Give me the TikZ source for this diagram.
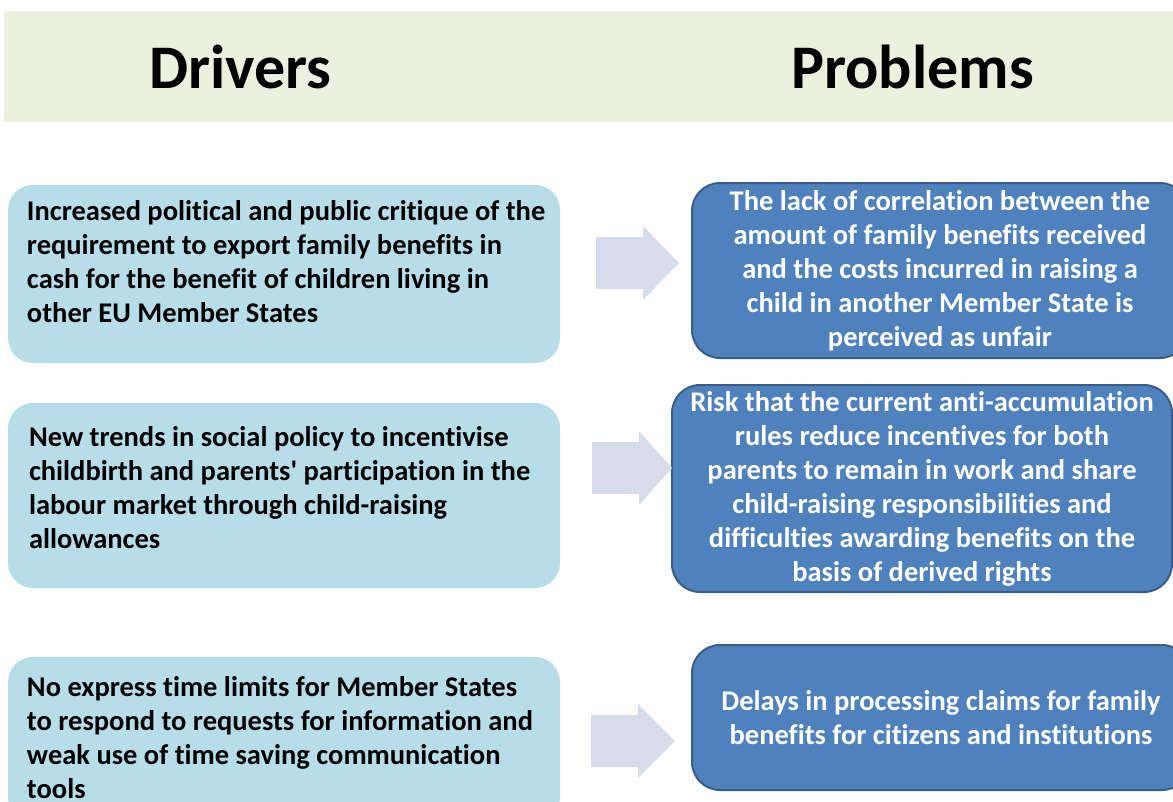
\documentclass[tikz,border=0pt]{standalone}
\usepackage{fontspec}
\setmainfont{Carlito}[Ligatures={TeX,NoCommon}]
\usetikzlibrary{positioning}

\definecolor{headband}{HTML}{EBF1DE}
\definecolor{driverblue}{HTML}{B7DDE8}
\definecolor{problemblue}{HTML}{4F81BD}
\definecolor{problemedge}{HTML}{385D8A}
\definecolor{arrowfill}{HTML}{D6DCE9}

\begin{document}
\begin{tikzpicture}[x=1pt, y=-1pt,
    every node/.style={font=\bfseries\fontsize{28.5}{34}\selectfont},
    heading/.style={font=\bfseries\fontsize{62}{70}\selectfont, anchor=base},
    driverbox/.style={rectangle, rounded corners=25pt, fill=driverblue, minimum width=552pt, inner sep=0pt},
    drivertext/.style={align=left, text=black, inner sep=0pt},
    problembox/.style={rectangle, rounded corners=28pt, fill=problemblue, draw=problemedge, line width=2pt, text=white, align=center, inner sep=0pt}]
    \useasboundingbox (0,0) rectangle (1173,801);

    \fill[headband] (4,11) rectangle (1180,122);
    \node [heading] (drivers) at (240.5,88) {Drivers};
    \node [heading] (problems) at (912.5,88) {Problems};

    \node [driverbox, minimum height=178pt] (drv1) at (284,274) {};
    \node [drivertext, right=19pt of drv1.west, yshift=12pt] (drv1txt) {Increased political and public critique of the\\requirement to export family benefits in\\cash for the benefit of children living in\\other EU Member States};
    \node [driverbox, minimum height=185pt] (drv2) at (284,495.5) {};
    \node [drivertext, right=21pt of drv2.west, yshift=8pt] (drv2txt) {New trends in social policy to incentivise\\childbirth and parents\textquotesingle{} participation in the\\labour market through child-raising\\allowances};
    \node [driverbox, minimum height=165pt] (drv3) at (284,739.5) {};
    \node [drivertext, right=19pt of drv3.west, yshift=2pt] (drv3txt) {No express time limits for Member States\\to respond to requests for information and\\weak use of time saving communication\\tools};

    \node [problembox, minimum width=496pt, minimum height=175pt] (prb1) at (940,270.5) {The lack of correlation between the\\amount of family benefits received\\and the costs incurred in raising a\\child in another Member State is\\perceived as unfair};
    \node [problembox, minimum width=500pt, minimum height=207pt] (prb2) at (922,488.5) {Risk that the current anti-accumulation\\rules reduce incentives for both\\parents to remain in work and share\\child-raising responsibilities and\\difficulties awarding benefits on the\\basis of derived rights};
    \node [problembox, minimum width=498pt, minimum height=145pt] (prb3) at (941,717.5) {Delays in processing claims for family\\benefits for citizens and institutions};

    \foreach \ax/\ay/\al in {596/263/83, 592/468/80, 591/741/84}
      \fill[arrowfill] (\ax,\ay-26) -- ++(47,0) -- ++(0,-11) -- (\ax+\al,\ay)
        -- (\ax+47,\ay+37) -- ++(0,-11) -- (\ax,\ay+26) -- cycle;
\end{tikzpicture}
\end{document}
